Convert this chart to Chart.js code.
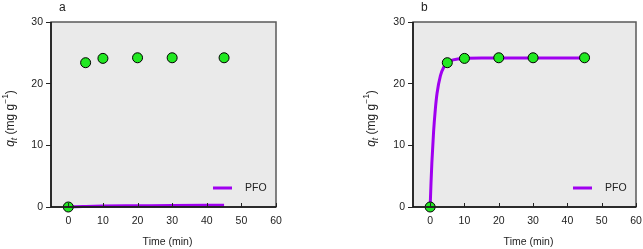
<!DOCTYPE html>
<html>
<head>
<meta charset="utf-8">
<script src="https://cdn.jsdelivr.net/npm/chart.js@4"></script>
<style>
  body { margin: 0; background: #fff; }
  .panel { position: absolute; top: 0; height: 249px; }
  #wrapA { left: 0; width: 320px; }
  #wrapB { left: 320px; width: 323px; }
</style>
</head>
<body>
<div class="panel" id="wrapA"><canvas id="chartA" width="320" height="249"></canvas></div>
<div class="panel" id="wrapB"><canvas id="chartB" width="323" height="249"></canvas></div>
<script>
// measured points (same in both panels)
var timeMin = [0, 5, 10, 20, 30, 45];
var qtMeasured = [0, 23.4, 24.1, 24.2, 24.2, 24.2];

// PFO fit, panel a
var fitTimeA = [0, 2, 5, 10, 20, 30, 45];
var fitQtA = [0, 0.06, 0.1, 0.15, 0.2, 0.25, 0.3];

// PFO fit, panel b
var fitTimeB = [0, 0.25, 0.5, 1, 1.5, 2, 3, 4, 5, 6, 8, 10, 15, 20, 30, 45];
var fitQtB = [0, 3.9, 7.2, 12.2, 15.8, 18.4, 21.3, 22.7, 23.4, 23.75, 24.0, 24.1, 24.15, 24.15, 24.15, 24.15];

var xTicks = [0, 10, 20, 30, 40, 50, 60];
var yTicks = [0, 10, 20, 30];
var fitColor = "#a000f0";
var font = "Liberation Sans, Arial, sans-serif";

function toXY(xs, ys) {
    var out = [];
    for (var i = 0; i < xs.length; i++) out.push({ x: xs[i], y: ys[i] });
    return out;
}

var framePlugin = {
    id: "frame",
    beforeDraw: function (chart) {
        var a = chart.chartArea, c = chart.ctx;
        c.save();
        c.fillStyle = "#eaeaea";
        c.fillRect(a.left, a.top, a.right - a.left, a.bottom - a.top);
        c.restore();
    },
    afterDatasetsDraw: function (chart, args, opts) {
        var a = chart.chartArea, c = chart.ctx;
        var xs = chart.scales.x;
        c.save();
        // box
        c.strokeStyle = "#5a5a5a";
        c.lineWidth = 1.5;
        c.strokeRect(a.left, a.top, a.right - a.left, a.bottom - a.top);
        c.strokeStyle = "#111";
        c.beginPath();
        c.moveTo(a.left, a.top); c.lineTo(a.left, a.bottom); c.lineTo(a.right, a.bottom);
        c.stroke();
        // inward x ticks
        c.lineWidth = 1;
        c.strokeStyle = "#222";
        xTicks.forEach(function (v) {
            var px = Math.round(xs.getPixelForValue(v)) + 0.5;
            c.beginPath(); c.moveTo(px, a.bottom); c.lineTo(px, a.bottom - 4); c.stroke();
        });
        // legend
        var ly = a.bottom - 19;
        c.strokeStyle = fitColor;
        c.lineWidth = 3;
        c.beginPath(); c.moveTo(a.right - 63, ly); c.lineTo(a.right - 44, ly); c.stroke();
        c.fillStyle = "#222";
        c.font = "10.5px " + font;
        c.textAlign = "left"; c.textBaseline = "middle";
        c.fillText("PFO", a.right - 31, ly + 0.5);
        // panel letter
        c.font = "12px " + font;
        c.textBaseline = "alphabetic";
        c.fillText(opts.letter, a.left + 8, 11);
        // x title
        c.font = "10.5px " + font;
        c.textAlign = "center";
        c.fillText("Time (min)", (a.left + a.right) / 2 + 4, 245);
        // y title: q_t (mg g^-1)
        c.translate(opts.yTitleX, (a.top + a.bottom) / 2 + 4);
        c.rotate(-Math.PI / 2);
        var parts = [
            { t: "q", f: "italic 12px " + font, dy: 0 },
            { t: "t", f: "italic 8.5px " + font, dy: 3.5 },
            { t: " (mg g", f: "12px " + font, dy: 0 },
            { t: "\u22121", f: "8.5px " + font, dy: -5.5 },
            { t: ")", f: "12px " + font, dy: 0 }
        ];
        var w = 0;
        parts.forEach(function (p) { c.font = p.f; w += c.measureText(p.t).width; });
        var x0 = -w / 2;
        c.textAlign = "left"; c.textBaseline = "middle";
        parts.forEach(function (p) {
            c.font = p.f;
            c.fillText(p.t, x0, p.dy);
            x0 += c.measureText(p.t).width;
        });
        c.restore();
    }
};

function make_chart(id, fitX, fitY, pad, yWidth, letter, yTitleX) {
    return new Chart(id, {
        type: "scatter",
        data: {
            datasets: [
                {
                    label: "measured",
                    data: toXY(timeMin, qtMeasured),
                    backgroundColor: "#22e822",
                    borderColor: "#000",
                    borderWidth: 1,
                    pointRadius: 5,
                    order: 0,
                    clip: false
                },
                {
                    label: "PFO",
                    data: toXY(fitX, fitY),
                    showLine: true,
                    borderColor: fitColor,
                    borderWidth: 3,
                    pointRadius: 0,
                    cubicInterpolationMode: "monotone",
                    order: 1,
                    clip: false
                }
            ]
        },
        options: {
            responsive: false,
            animation: false,
            layout: { padding: pad },
            plugins: {
                legend: { display: false },
                tooltip: { enabled: false },
                frame: { letter: letter, yTitleX: yTitleX }
            },
            scales: {
                x: {
                    type: "linear",
                    min: -5,
                    max: 60,
                    afterBuildTicks: function (s) { s.ticks = xTicks.map(function (v) { return { value: v }; }); },
                    afterFit: function (s) { s.height = 42; },
                    grid: { display: false },
                    border: { display: false },
                    ticks: { padding: 0, color: "#222", font: { family: font, size: 10.5 }, maxRotation: 0 }
                },
                y: {
                    type: "linear",
                    min: 0,
                    max: 30,
                    afterBuildTicks: function (s) { s.ticks = yTicks.map(function (v) { return { value: v }; }); },
                    afterFit: function (s) { s.width = yWidth; },
                    grid: { drawOnChartArea: false, tickLength: 5, color: "#222" },
                    border: { display: false },
                    ticks: { padding: 3, color: "#222", font: { family: font, size: 10.5 } }
                }
            }
        },
        plugins: [framePlugin]
    });
}

make_chart("chartA", fitTimeA, fitQtA, { left: 0, right: 44, top: 22, bottom: 0 }, 51, "a", 11);
make_chart("chartB", fitTimeB, fitQtB, { left: 42, right: 7, top: 22, bottom: 0 }, 51, "b", 52);
</script>
</body>
</html>
